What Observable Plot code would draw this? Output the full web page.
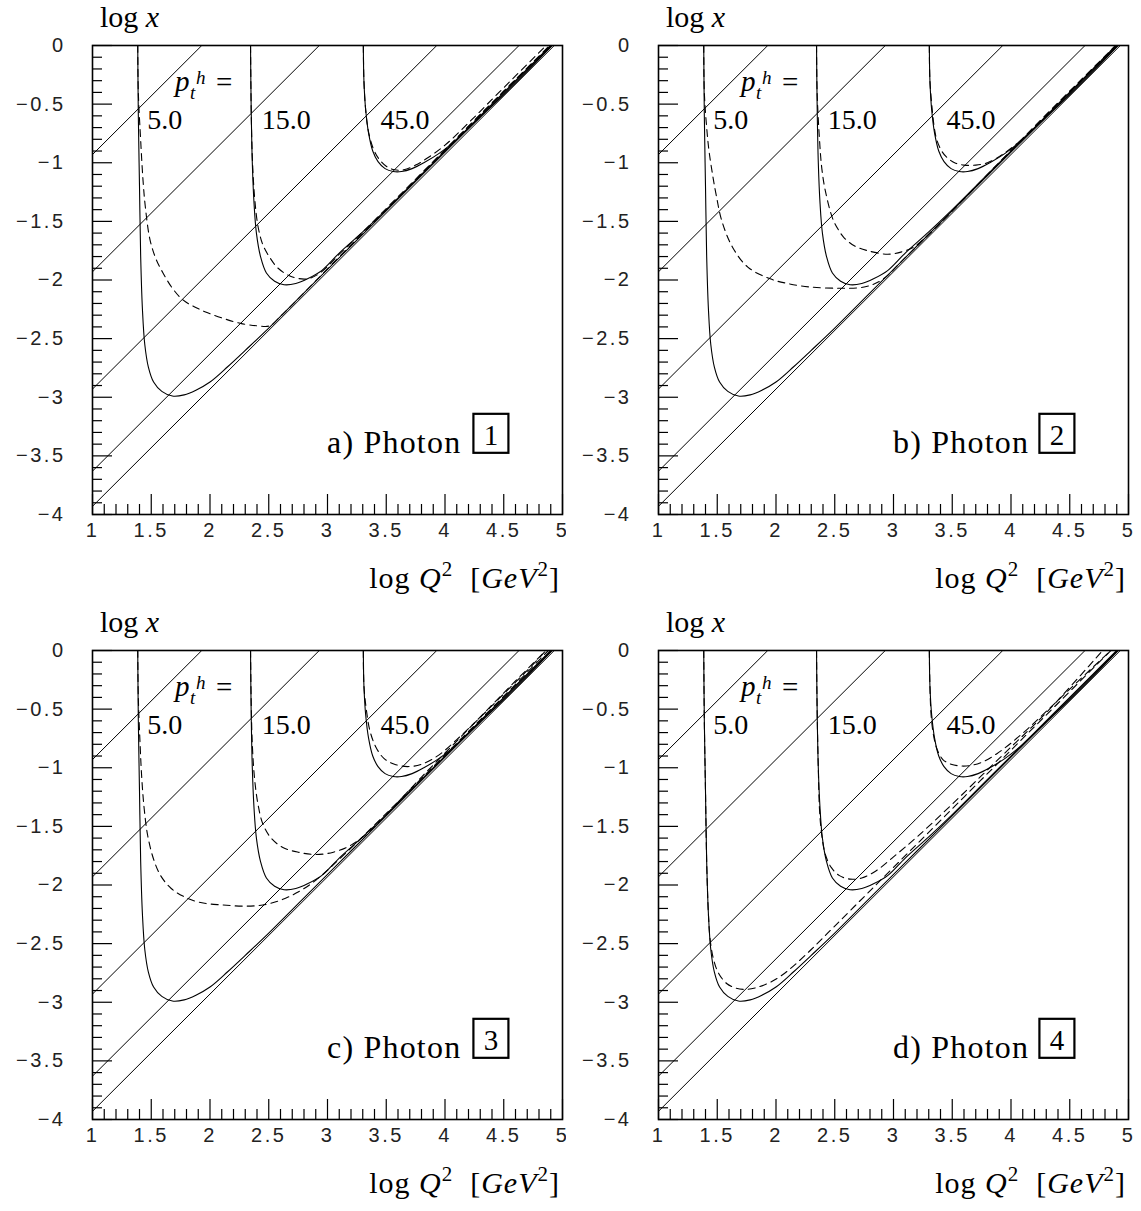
<!DOCTYPE html>
<html>
<head>
<meta charset="utf-8">
<script src="https://cdn.jsdelivr.net/npm/d3@7"></script>
<script src="https://cdn.jsdelivr.net/npm/@observablehq/plot@0.6"></script>
<style>
  html, body { margin: 0; padding: 0; background: #fff; }
  #figure { position: relative; width: 1141px; height: 1211px; background: #fff; }
  .panel { position: absolute; }
  .panel g[aria-label$="tick label"] text { letter-spacing: 2.5px; }
</style>
</head>
<body>
<div id="figure"></div>
<script>
// ---------- data ----------
const panelLetters = ["a", "b", "c", "d"];
const photonSets = ["1", "2", "3", "4"];
const ptValues = [5.0, 15.0, 45.0];
const ptLabels = ["5.0", "15.0", "45.0"];
const ptLabelQ2 = [1.47, 2.445, 3.455];          // log Q² where each p_t label starts
// straight lines of fixed inelasticity: log x = log Q² − offset
const yLineOffsets = [1.93, 2.93, 3.93, 4.63, 4.93];
const xMajorTicks = [1, 1.5, 2, 2.5, 3, 3.5, 4, 4.5, 5];
const yMajorTicks = [0, -0.5, -1, -1.5, -2, -2.5, -3, -3.5, -4];

// full curves [log Q², log x], identical in all four panels
const solidPt5 = [[1.385,0],[1.39,-0.6],[1.40,-1.2],[1.41,-1.8],[1.425,-2.25],[1.445,-2.55],[1.475,-2.74],[1.52,-2.87],[1.59,-2.95],[1.68,-2.99],[1.78,-2.98],[1.88,-2.94],[2.0,-2.87],[2.15,-2.74],[2.3,-2.60],[2.5,-2.41],[2.8,-2.11],[3.2,-1.71],[3.6,-1.31],[4.0,-0.91],[4.5,-0.41],[4.91,0]];
const solidPt15 = [[2.345,0],[2.35,-0.5],[2.36,-1.0],[2.375,-1.35],[2.395,-1.6],[2.43,-1.8],[2.48,-1.94],[2.55,-2.01],[2.63,-2.04],[2.73,-2.03],[2.83,-1.99],[2.95,-1.92],[3.1,-1.77],[3.3,-1.59],[3.5,-1.40],[3.8,-1.10],[4.2,-0.70],[4.6,-0.30],[4.9,0]];
const solidPt45 = [[3.305,0],[3.31,-0.3],[3.325,-0.55],[3.35,-0.75],[3.385,-0.9],[3.43,-0.99],[3.49,-1.05],[3.56,-1.075],[3.63,-1.075],[3.72,-1.05],[3.82,-1.0],[3.95,-0.92],[4.1,-0.8],[4.3,-0.61],[4.5,-0.42],[4.7,-0.22],[4.91,0]];

// dashed curves, one set per photon parametrisation
const dashedA5 = [[1.385,0],[1.39,-0.4],[1.41,-0.81],[1.43,-1.15],[1.45,-1.38],[1.49,-1.66],[1.54,-1.82],[1.60,-1.94],[1.68,-2.07],[1.77,-2.17],[1.87,-2.23],[1.98,-2.28],[2.12,-2.33],[2.26,-2.37],[2.40,-2.39],[2.51,-2.39],[2.6,-2.31],[2.8,-2.11],[3.2,-1.70],[3.6,-1.30],[4.0,-0.89],[4.5,-0.39],[4.9,0]];
const dashedA15 = [[2.345,0],[2.35,-0.5],[2.36,-0.95],[2.38,-1.3],[2.41,-1.55],[2.45,-1.70],[2.51,-1.81],[2.58,-1.90],[2.69,-1.97],[2.83,-1.99],[2.95,-1.93],[3.1,-1.78],[3.3,-1.59],[3.6,-1.29],[4.0,-0.89],[4.5,-0.39],[4.89,0]];
const dashedA45 = [[3.305,0],[3.31,-0.3],[3.325,-0.55],[3.35,-0.74],[3.39,-0.88],[3.44,-0.97],[3.50,-1.03],[3.57,-1.06],[3.65,-1.06],[3.75,-1.02],[3.85,-0.96],[4.0,-0.85],[4.2,-0.66],[4.4,-0.46],[4.6,-0.26],[4.86,0]];

const dashedB5 = [[1.385,0],[1.39,-0.4],[1.41,-0.7],[1.43,-0.9],[1.46,-1.1],[1.49,-1.27],[1.54,-1.50],[1.63,-1.72],[1.76,-1.89],[1.95,-1.99],[2.1,-2.03],[2.29,-2.06],[2.55,-2.07],[2.75,-2.06],[2.9,-2.0],[3.1,-1.81],[3.5,-1.41],[4.0,-0.90],[4.5,-0.39],[4.9,0]];
const dashedB15 = [[2.345,0],[2.35,-0.4],[2.37,-0.8],[2.39,-1.05],[2.42,-1.24],[2.48,-1.47],[2.53,-1.57],[2.58,-1.64],[2.67,-1.71],[2.78,-1.75],[2.95,-1.78],[3.07,-1.76],[3.17,-1.72],[3.29,-1.62],[3.5,-1.41],[3.8,-1.1],[4.2,-0.69],[4.6,-0.29],[4.89,0]];
const dashedB45 = [[3.305,0],[3.31,-0.3],[3.33,-0.55],[3.35,-0.72],[3.37,-0.81],[3.41,-0.9],[3.45,-0.95],[3.52,-1.0],[3.60,-1.02],[3.70,-1.02],[3.80,-1.0],[3.94,-0.92],[4.14,-0.76],[4.4,-0.5],[4.6,-0.3],[4.89,0]];

const dashedC5 = [[1.385,0],[1.39,-0.4],[1.405,-0.8],[1.42,-1.1],[1.44,-1.35],[1.47,-1.58],[1.52,-1.78],[1.58,-1.92],[1.67,-2.03],[1.78,-2.10],[1.92,-2.15],[2.1,-2.17],[2.3,-2.18],[2.45,-2.17],[2.6,-2.13],[2.75,-2.06],[2.9,-1.96],[3.1,-1.78],[3.5,-1.39],[4.0,-0.89],[4.5,-0.39],[4.88,0]];
const dashedC15 = [[2.345,0],[2.35,-0.4],[2.36,-0.8],[2.38,-1.1],[2.41,-1.32],[2.45,-1.48],[2.52,-1.60],[2.62,-1.68],[2.75,-1.72],[2.9,-1.74],[3.05,-1.72],[3.2,-1.66],[3.35,-1.55],[3.5,-1.40],[3.8,-1.08],[4.2,-0.67],[4.6,-0.26],[4.86,0]];
const dashedC45 = [[3.305,0],[3.31,-0.3],[3.33,-0.5],[3.36,-0.68],[3.41,-0.82],[3.48,-0.92],[3.57,-0.97],[3.68,-0.99],[3.8,-0.97],[3.95,-0.89],[4.1,-0.76],[4.3,-0.57],[4.5,-0.37],[4.7,-0.17],[4.86,0]];

const dashedD5 = [[1.385,0],[1.39,-0.6],[1.40,-1.2],[1.41,-1.8],[1.425,-2.25],[1.44,-2.47],[1.47,-2.64],[1.51,-2.75],[1.58,-2.84],[1.66,-2.88],[1.75,-2.89],[1.85,-2.87],[1.95,-2.83],[2.05,-2.77],[2.15,-2.69],[2.3,-2.55],[2.5,-2.35],[2.8,-2.05],[3.2,-1.65],[3.6,-1.25],[4.0,-0.85],[4.4,-0.45],[4.85,0]];
const dashedD15 = [[2.345,0],[2.35,-0.5],[2.36,-1.0],[2.37,-1.35],[2.39,-1.58],[2.42,-1.74],[2.47,-1.85],[2.54,-1.92],[2.63,-1.95],[2.73,-1.94],[2.85,-1.88],[3.0,-1.76],[3.2,-1.59],[3.5,-1.31],[3.9,-0.92],[4.3,-0.53],[4.78,0]];
const dashedD45 = [[3.305,0],[3.31,-0.3],[3.32,-0.55],[3.34,-0.72],[3.37,-0.84],[3.42,-0.93],[3.49,-0.97],[3.57,-0.985],[3.66,-0.98],[3.76,-0.95],[3.88,-0.88],[4.0,-0.79],[4.14,-0.67],[4.3,-0.52],[4.5,-0.33],[4.7,-0.14],[4.85,0]];

const solidCurves = [solidPt5, solidPt15, solidPt45];
const dashedCurves = [
  [dashedA5, dashedA15, dashedA45],
  [dashedB5, dashedB15, dashedB45],
  [dashedC5, dashedC15, dashedC45],
  [dashedD5, dashedD15, dashedD45]
];

// ---------- layout ----------
const W = 570, H = 605;
const M = {top: 45, right: 8, bottom: 91, left: 92};
const innerW = W - M.left - M.right, innerH = H - M.top - M.bottom;
const panelOrigins = [[0, 0], [566, 0], [0, 605], [566, 605]];
const serif = "'Liberation Serif', 'DejaVu Serif', serif";
const sans = "'Liberation Sans', 'DejaVu Sans', sans-serif";
const fmt = d3.format("");

const xMinor = d3.range(10, 51).map(d => d / 10).filter(d => !xMajorTicks.includes(d));
const yMinor = d3.range(-40, 1).map(d => d / 10).filter(d => !yMajorTicks.includes(d));

function curveRows(curves) {
  return curves.flatMap((pts, i) => pts.map(([q2, lx]) => ({pt: ptValues[i], q2, lx})));
}

const diagonals = yLineOffsets.map(c => ({
  x1: Math.max(1, c - 4), y1: Math.max(1, c - 4) - c,
  x2: Math.min(5, c), y2: Math.min(5, c) - c
}));

const fig = document.getElementById("figure");

panelLetters.forEach((letter, p) => {
  const plot = Plot.plot({
    width: W, height: H,
    marginTop: M.top, marginRight: M.right, marginBottom: M.bottom, marginLeft: M.left,
    style: {background: "white", color: "black", fontFamily: sans},
    x: {domain: [1, 5]},
    y: {domain: [-4, 0]},
    marks: [
      Plot.link(diagonals, {x1: "x1", y1: "y1", x2: "x2", y2: "y2", stroke: "black", strokeWidth: 1, clip: true}),
      Plot.line(curveRows(solidCurves), {x: "q2", y: "lx", z: "pt", curve: "catmull-rom", stroke: "black", strokeWidth: 1.1, clip: true}),
      Plot.line(curveRows(dashedCurves[p]), {x: "q2", y: "lx", z: "pt", curve: "catmull-rom", stroke: "black", strokeWidth: 1.1, strokeDasharray: "7,5", clip: true}),
      // inward ticks on the left and bottom edges
      Plot.ruleY(yMajorTicks, {stroke: "black", strokeWidth: 1.2, insetRight: innerW - 20}),
      Plot.ruleY(yMinor, {stroke: "black", strokeWidth: 1.2, insetRight: innerW - 10}),
      Plot.ruleX(xMajorTicks, {stroke: "black", strokeWidth: 1.2, insetTop: innerH - 20}),
      Plot.ruleX(xMinor, {stroke: "black", strokeWidth: 1.2, insetTop: innerH - 10}),
      Plot.axisY(yMajorTicks, {tickSize: 0, tickPadding: 27, tickFormat: fmt, fontSize: 20, fontFamily: sans, fill: "#222", label: null}),
      Plot.axisX(xMajorTicks, {tickSize: 0, tickPadding: 8, tickFormat: fmt, fontSize: 20, fontFamily: sans, fill: "#222", label: null}),
      Plot.frame({stroke: "black", strokeWidth: 1.6})
    ]
  });

  const wrap = document.createElement("div");
  wrap.className = "panel";
  wrap.style.left = panelOrigins[p][0] + "px";
  wrap.style.top = panelOrigins[p][1] + "px";
  wrap.appendChild(plot);
  fig.appendChild(wrap);

  const xs = plot.scale("x"), ys = plot.scale("y");
  const sx = d3.scaleLinear(xs.domain, xs.range);
  const sy = d3.scaleLinear(ys.domain, ys.range);
  const svg = d3.select(plot);
  const g = svg.append("g").attr("font-family", serif).attr("fill", "black").attr("text-anchor", "start");

  // axis titles
  const yt = g.append("text").attr("x", 100).attr("y", 27).attr("font-size", 30);
  yt.append("tspan").text("log ");
  yt.append("tspan").attr("font-style", "italic").text("x");

  const xt = g.append("text").attr("x", W - 10).attr("y", 588).attr("font-size", 30)
    .attr("text-anchor", "end").attr("letter-spacing", 1);
  xt.append("tspan").text("log ");
  xt.append("tspan").attr("font-style", "italic").text("Q");
  xt.append("tspan").attr("font-size", 21).attr("dy", -12).text("2");
  xt.append("tspan").attr("dy", 12).text("  [");
  xt.append("tspan").attr("font-style", "italic").text("GeV");
  xt.append("tspan").attr("font-size", 21).attr("dy", -12).text("2");
  xt.append("tspan").attr("dy", 12).text("]");

  // p_t^h = (one text element, super- and subscript) and the three p_t values
  const px = sx(1.706), py = sy(-0.392);
  const pt = g.append("text").attr("x", px).attr("y", py).attr("font-size", 29);
  pt.append("tspan").attr("font-style", "italic").text("p");
  pt.append("tspan").attr("x", px + 21).attr("y", py - 7).attr("font-size", 19).attr("font-style", "italic").text("h");
  pt.append("tspan").attr("x", px + 15).attr("y", py + 8).attr("font-size", 19).attr("font-style", "italic").text("t");
  pt.append("tspan").attr("x", px + 41).attr("y", py + 1).text("=");
  ptLabels.forEach((lab, i) => {
    g.append("text").attr("x", sx(ptLabelQ2[i])).attr("y", sy(-0.716)).attr("font-size", 28).text(lab);
  });

  // panel caption with boxed photon set number
  g.append("text").attr("x", sx(3.0)).attr("y", sy(-3.478)).attr("font-size", 32)
    .attr("letter-spacing", 1.2).text(letter + ") Photon");
  const bx = sx(4.395), by = sy(-3.41);
  g.append("rect").attr("x", bx - 17.5).attr("y", by - 31).attr("width", 35).attr("height", 39)
    .attr("fill", "none").attr("stroke", "black").attr("stroke-width", 2.2);
  g.append("text").attr("x", bx).attr("y", by).attr("font-size", 29).attr("text-anchor", "middle").text(photonSets[p]);
});
</script>
</body>
</html>
